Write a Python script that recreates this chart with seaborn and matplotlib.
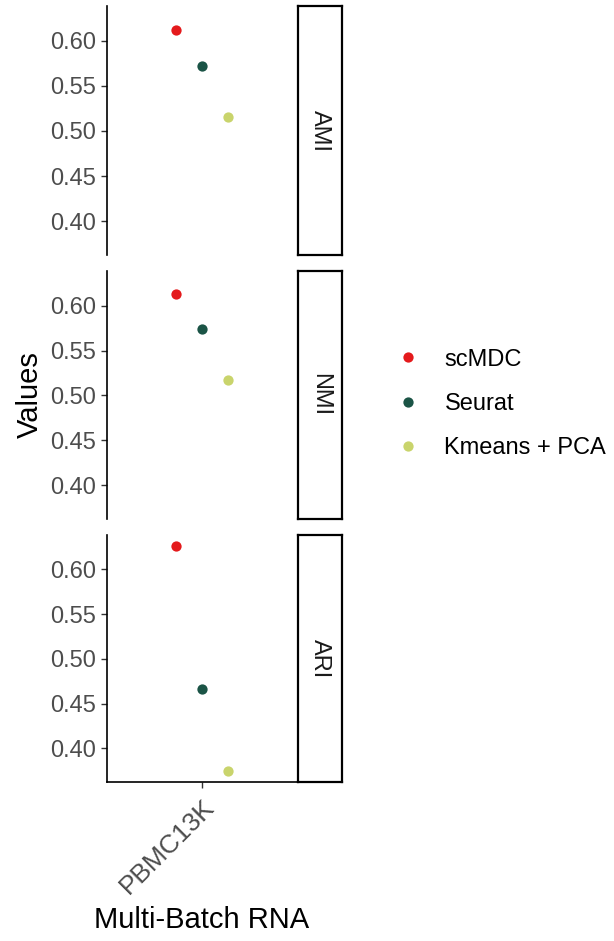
import matplotlib
matplotlib.use("Agg")
import matplotlib.pyplot as plt
import seaborn as sns
import pandas as pd

# Clustering scores of each method on the multi-batch RNA dataset
metrics = ["AMI", "NMI", "ARI"]
methods = ["scMDC", "Seurat", "Kmeans + PCA"]
datasets = ["PBMC13K"]
ami_values = [0.612, 0.572, 0.515]
nmi_values = [0.613, 0.574, 0.517]
ari_values = [0.626, 0.466, 0.375]
y_ticks = [0.40, 0.45, 0.50, 0.55, 0.60]
y_tick_labels = ["0.40", "0.45", "0.50", "0.55", "0.60"]
colors = ["#E41A1C", "#1B5446", "#C9D46C"]

scores = {"AMI": ami_values, "NMI": nmi_values, "ARI": ari_values}
df = pd.DataFrame(
    [{"Metric": m, "Method": meth, "Dataset": datasets[0], "Value": v}
     for m in metrics for meth, v in zip(methods, scores[m])]
)

sns.set_theme(style="white")
plt.rcParams["font.family"] = ["Liberation Sans", "DejaVu Sans"]

W, H = 614, 941
fig = plt.figure(figsize=(W / 100, H / 100), dpi=100)

def rect(x0, y0, x1, y1):
    return [x0 / W, (H - y1) / H, (x1 - x0) / W, (y1 - y0) / H]

panel_rows = [(6, 255), (271, 519), (535, 782)]
px0, px1 = 107, 297
sx0, sx1 = 298, 342

lo = min(min(v) for v in scores.values())
hi = max(max(v) for v in scores.values())
pad = (hi - lo) * 0.05
ylim = (lo - pad, hi + pad)

tick_color = "#4D4D4D"
fs_tick = 17
fs_xtick = 19
fs_title = 21

for i, (m, (y0, y1)) in enumerate(zip(metrics, panel_rows)):
    ax = fig.add_axes(rect(px0, y0, px1, y1))
    sub = df[df["Metric"] == m]
    sns.stripplot(data=sub, x="Dataset", y="Value", hue="Method",
                  hue_order=methods, palette=colors, dodge=True, jitter=False,
                  size=7.4, linewidth=0, ax=ax, legend=(m == "NMI"))
    ax.set_xlim(-0.963, 0.963)
    ax.set_ylim(*ylim)
    ax.set_yticks(y_ticks)
    ax.set_yticklabels(y_tick_labels)
    ax.set_xlabel("")
    ax.set_ylabel("")
    for s in ["top", "right"]:
        ax.spines[s].set_visible(False)
    ax.spines["left"].set_color("black")
    ax.spines["left"].set_linewidth(1.2)
    ax.tick_params(axis="y", length=4.5, width=1.0, color="#333333",
                   labelsize=fs_tick, labelcolor=tick_color, pad=3.5, left=True)
    if m != "ARI":
        ax.spines["bottom"].set_visible(False)
        ax.set_xticks([])
    else:
        ax.spines["bottom"].set_color("black")
        ax.spines["bottom"].set_linewidth(1.2)
        ax.tick_params(axis="x", length=4.5, width=1.0, color="#333333",
                       labelsize=fs_xtick, labelcolor=tick_color, pad=5, bottom=True)
        for lab in ax.get_xticklabels():
            lab.set_rotation(45)
            lab.set_ha("right")
            lab.set_va("top")
            lab.set_rotation_mode("anchor")
    if m == "NMI":
        sns.move_legend(ax, "center left", bbox_to_anchor=(363 / W, 1 - 404 / H),
                        bbox_transform=fig.transFigure, frameon=False, title=None,
                        fontsize=fs_tick, labelspacing=0.95, handletextpad=0.55,
                        markerscale=1.0, labelcolor="black")

    # facet strip on the right side
    sax = fig.add_axes(rect(sx0, y0, sx1, y1))
    sax.set_xticks([])
    sax.set_yticks([])
    sax.set_facecolor("white")
    for s in sax.spines.values():
        s.set_visible(True)
        s.set_color("black")
        s.set_linewidth(1.6)
    sax.text(0.5, 0.5, m, rotation=-90, ha="center", va="center",
             fontsize=fs_tick, color="#1A1A1A", transform=sax.transAxes)

fig.text(30 / W, 1 - 395 / H, "Values", rotation=90, ha="center", va="center",
         fontsize=fs_title, color="black")
fig.text(202 / W, 1 - 920 / H, "Multi-Batch RNA", ha="center", va="center",
         fontsize=fs_title, color="black")

fig.savefig("out.png", dpi=100, facecolor="white")
